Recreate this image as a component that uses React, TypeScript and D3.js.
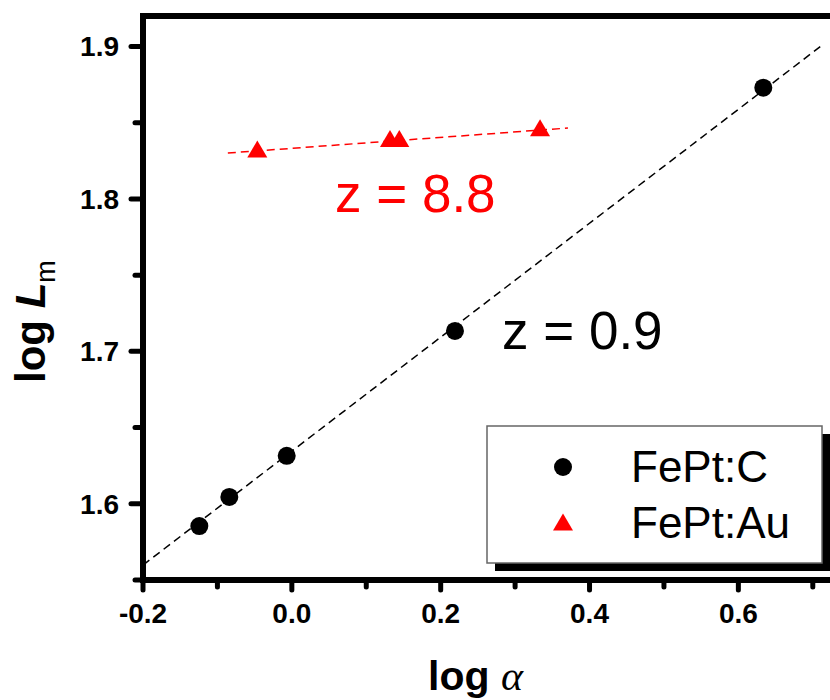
import React from "react";
import * as d3 from "d3";

const cX = [-0.1243, -0.084, -0.0069, 0.2192, 0.6335];
const cY = [1.5854, 1.6045, 1.6315, 1.7134, 1.873];
const auX = [-0.0464, 0.1319, 0.1444, 0.3335];
const auY = [1.8327, 1.8396, 1.8396, 1.8467];
const cFitX = [-0.2, 0.71];
const cFitY = [1.5598, 1.8999];
const auFitX = [-0.086, 0.371];
const auFitY = [1.8301, 1.8465];
const xMajor = [-0.2, 0.0, 0.2, 0.4, 0.6];
const xMinor = [-0.1, 0.1, 0.3, 0.5, 0.7];
const yMajor = [1.6, 1.7, 1.8, 1.9];
const yMinor = [1.55, 1.65, 1.75, 1.85];
const legendLabels = ["FePt:C", "FePt:Au"];

const FONT = "Arial, 'Liberation Sans', Helvetica, sans-serif";

export default function App() {
  const x = d3.scaleLinear().domain([-0.2, 0.75]).range([143, 850]);
  const y = d3.scaleLinear().domain([1.55, 1.92]).range([580, 16]);
  const line = d3
    .line<[number, number]>()
    .x((d) => x(d[0]))
    .y((d) => y(d[1]));
  const tri = (cx: number, cy: number) =>
    `M${cx},${cy - 8.5}L${cx + 10},${cy + 8.5}L${cx - 10},${cy + 8.5}Z`;
  const fmt = (v: number) => d3.format(".1f")(v).replace("\u2212", "-");
  const x0 = x.range()[0];
  const yb = y.range()[0];
  const yt = y.range()[1];

  return (
    <svg
      width={830}
      height={700}
      style={{ position: "absolute", left: 0, top: 0, background: "#fff" }}
      fontFamily={FONT}
    >
      <rect x={0} y={0} width={830} height={700} fill="#fff" />
      {/* fit lines */}
      <path
        d={line(cFitX.map((v, i) => [v, cFitY[i]]) as [number, number][]) || ""}
        fill="none"
        stroke="#000"
        strokeWidth={1.5}
        strokeDasharray="8,5"
      />
      <path
        d={line(auFitX.map((v, i) => [v, auFitY[i]]) as [number, number][]) || ""}
        fill="none"
        stroke="#ff0000"
        strokeWidth={1.5}
        strokeDasharray="8,5"
      />
      {/* points */}
      {cX.map((v, i) => (
        <circle key={"c" + i} cx={x(v)} cy={y(cY[i])} r={9} fill="#000" />
      ))}
      {auX.map((v, i) => (
        <path key={"a" + i} d={tri(x(v), y(auY[i]))} fill="#ff0000" />
      ))}
      {/* annotations */}
      <text x={335} y={212} fontSize={53} fill="#ff0000">
        z = 8.8
      </text>
      <text x={502} y={349} fontSize={53} fill="#000">
        z = 0.9
      </text>
      {/* legend */}
      <rect x={495} y={434} width={335} height={137} fill="#000" />
      <rect x={487} y={426} width={335} height={137} fill="#fff" stroke="#666" strokeWidth={1.5} />
      <circle cx={563} cy={467} r={9} fill="#000" />
      <path d={tri(563, 522)} fill="#ff0000" />
      {legendLabels.map((t, i) => (
        <text key={t} x={631} y={482 + i * 56} fontSize={44} fill="#000">
          {t}
        </text>
      ))}
      {/* axes */}
      <line x1={x0} y1={yb} x2={840} y2={yb} stroke="#000" strokeWidth={6} />
      <line x1={x0} y1={yt} x2={840} y2={yt} stroke="#000" strokeWidth={6} />
      <line x1={x0} y1={yb + 3} x2={x0} y2={yt - 3} stroke="#000" strokeWidth={6} />
      {xMajor.map((v) => (
        <line key={"xm" + v} x1={x(v)} y1={yb} x2={x(v)} y2={yb + 10} stroke="#000" strokeWidth={5} strokeLinecap="round" />
      ))}
      {xMinor.map((v) => (
        <line key={"xn" + v} x1={x(v)} y1={yb} x2={x(v)} y2={yb + 7} stroke="#000" strokeWidth={5} strokeLinecap="round" />
      ))}
      {yMajor.map((v) => (
        <line key={"ym" + v} x1={x0} y1={y(v)} x2={x0 - 12} y2={y(v)} stroke="#000" strokeWidth={5} strokeLinecap="round" />
      ))}
      {yMinor.map((v) => (
        <line key={"yn" + v} x1={x0} y1={y(v)} x2={x0 - 8} y2={y(v)} stroke="#000" strokeWidth={5} strokeLinecap="round" />
      ))}
      {xMajor.map((v) => (
        <text key={"xl" + v} x={x(v)} y={623} fontSize={28} fontWeight="bold" textAnchor="middle">
          {fmt(v)}
        </text>
      ))}
      {yMajor.map((v) => (
        <text key={"yl" + v} x={119} y={y(v) + 10} fontSize={28} fontWeight="bold" textAnchor="end">
          {fmt(v)}
        </text>
      ))}
      {/* axis titles */}
      <text x={428} y={690} fontSize={41} fontWeight="bold">
        {"log "}
        <tspan fontFamily="'Liberation Serif', 'Times New Roman', serif" fontStyle="italic" fontWeight="normal" fontSize={42}>
          α
        </tspan>
      </text>
      <text transform="translate(45,383) rotate(-90)" fontSize={42} fontWeight="bold">
        {"log "}
        <tspan fontStyle="italic">L</tspan>
        <tspan fontSize={27} fontWeight="normal" dy={10}>
          m
        </tspan>
      </text>
    </svg>
  );
}
